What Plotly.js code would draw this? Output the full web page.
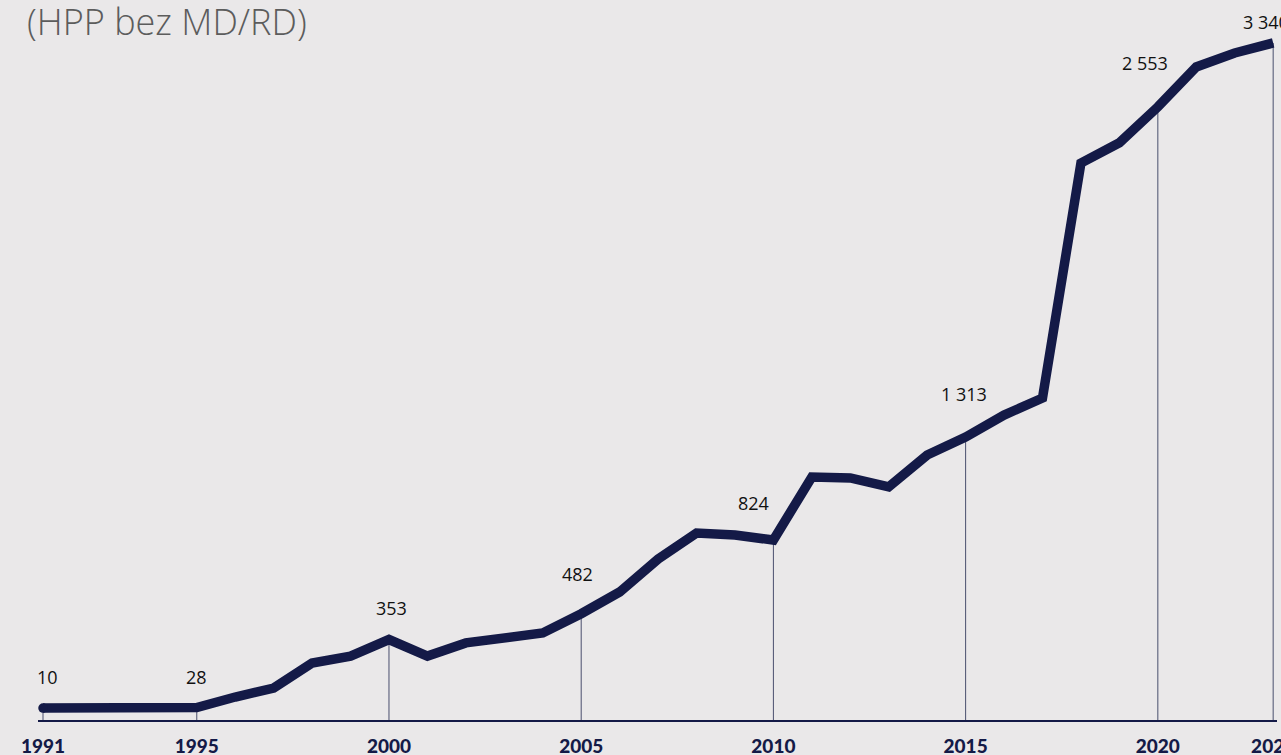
<!DOCTYPE html>
<html>
<head>
<meta charset="utf-8">
<script src="https://cdn.plot.ly/plotly-3.0.1.min.js"></script>
<style>
html,body{margin:0;padding:0;background:#eae8e9;overflow:hidden;}
#chart{width:1281px;height:755px;}
</style>
</head>
<body>
<div id="chart"></div>
<script>
// Data
const years = [1991,1992,1993,1994,1995,1996,1997,1998,1999,2000,2001,2002,2003,2004,2005,2006,2007,2008,2009,2010,2011,2012,2013,2014,2015,2016,2017,2018,2019,2020,2021,2022,2023];
const values = [10,11,13,15,12,65,110,235,270,353,270,336,361,386,482,591,756,886,876,851,1167,1162,1117,1277,1367,1477,1562,2739,2840,3020,3220,3290,3340];
const labelYears = [1991,1995,2000,2005,2010,2015,2020,2023];
const labelTexts = ["10","28","353","482","824","1 313","2 553","3 340"];
const tickYears = [1991,1995,2000,2005,2010,2015,2020,2023];
const tickTexts = ["1991","1995","2000","2005","2010","2015","2020","2023"];
const titleText = "(HPP bez MD/RD)";

const navy = "#141a47";
const yMin = -60, yMax = 3455;
const xMin = 1990.87, xMax = 2023.1;

// label offsets (style)
const labelShift = [[4,31],[0,31],[3,32],[-4,40],[-20,37],[-2,43],[-13,44],[-7,21]];

const valueAt = y => values[years.indexOf(y)];

const shapes = labelYears.map(y => ({
  type:"line", xref:"x", yref:"y", x0:y, x1:y, y0:yMin, y1:valueAt(y),
  line:{color:"#4a4f6e", width:1}, layer:"below"
}));
shapes.push({type:"line", xref:"x", yref:"y", x0:xMin, x1:xMax, y0:yMin, y1:yMin,
  line:{color:navy, width:4}});

const annotations = labelYears.map((y,i) => ({
  x:y, y:valueAt(y), xref:"x", yref:"y", text:labelTexts[i], showarrow:false,
  xshift:labelShift[i][0], yshift:labelShift[i][1],
  font:{family:"Open Sans, sans-serif", size:18, color:"#111111"}
}));

const trace = {
  x: years, y: values, type:"scatter", mode:"lines",
  line:{color:navy, width:9.5},
  hoverinfo:"skip"
};
const ends = {
  x:[years[0]], y:[values[0]], type:"scatter", mode:"markers",
  marker:{color:navy, size:9.5}, hoverinfo:"skip"
};

const layout = {
  width:1281, height:755,
  paper_bgcolor:"#eae8e9", plot_bgcolor:"#eae8e9",
  margin:{l:38, r:4, t:20, b:33},
  showlegend:false,
  title:{text:titleText, xref:"container", yref:"container", x:27/1281, xanchor:"left",
    y:1-22/755, yanchor:"middle", font:{family:"Open Sans, sans-serif", size:36, color:"#5c5c5c", weight:300}},
  xaxis:{range:[xMin,xMax], showgrid:false, zeroline:false, showline:false,
    tickmode:"array", tickvals:tickYears, ticktext:tickTexts, ticks:"",
    ticklabeloverflow:"allow",
    tickfont:{family:"Lato, Open Sans, sans-serif", size:19, color:navy, weight:900},
    ticklabelstandoff:11, fixedrange:true},
  yaxis:{range:[yMin,yMax], showgrid:false, zeroline:false, showline:false,
    showticklabels:false, ticks:"", fixedrange:true},
  shapes:shapes,
  annotations:annotations
};

Plotly.newPlot("chart", [trace, ends], layout, {displayModeBar:false, staticPlot:true});
</script>
</body>
</html>
